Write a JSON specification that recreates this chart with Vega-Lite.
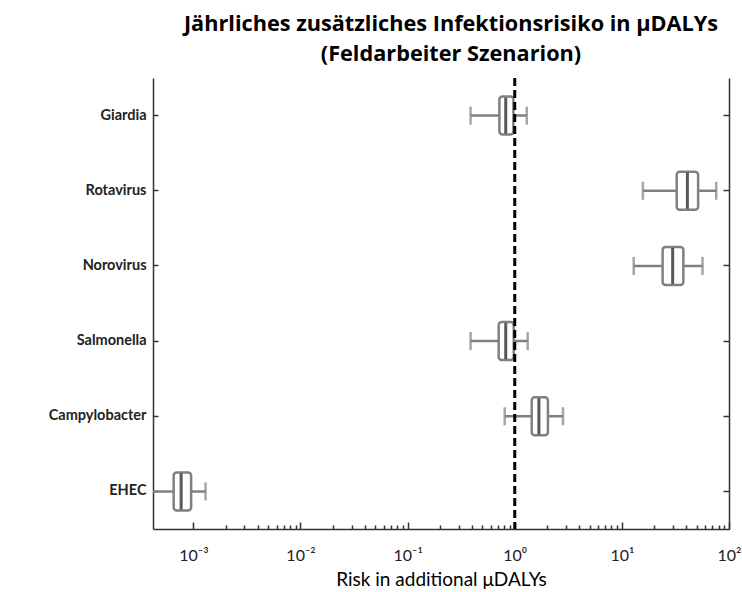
{
  "$schema": "https://vega.github.io/schema/vega-lite/v6.json",
  "autosize": "none",
  "width": 576,
  "height": 451,
  "padding": {"left": 153, "top": 78, "right": 13, "bottom": 63},
  "background": "white",
  "config": {"view": {"stroke": null}, "font": "Lato"},
  "title": {
    "text": ["Jährliches zusätzliches Infektionsrisiko in μDALYs", "(Feldarbeiter Szenarion)"],
    "font": "Open Sans",
    "fontSize": 21.7,
    "fontWeight": "bold",
    "color": "#000000",
    "anchor": "middle",
    "dx": 10,
    "lineHeight": 30,
    "offset": 11
  },
  "datasets": {
    "boxes": [
      {"pathogen": "Giardia", "lw": 0.387, "q1": 0.719, "median": 0.824, "q3": 0.972, "uw": 1.295},
      {"pathogen": "Rotavirus", "lw": 15.7, "q1": 32.5, "median": 40.9, "q3": 51.5, "uw": 76.0},
      {"pathogen": "Norovirus", "lw": 12.9, "q1": 24.0, "median": 29.8, "q3": 37.5, "uw": 56.6},
      {"pathogen": "Salmonella", "lw": 0.387, "q1": 0.708, "median": 0.824, "q3": 0.979, "uw": 1.32},
      {"pathogen": "Campylobacter", "lw": 0.806, "q1": 1.44, "median": 1.68, "q3": 2.04, "uw": 2.82},
      {"pathogen": "EHEC", "lw": 0.00035, "q1": 0.000655, "median": 0.000769, "q3": 0.000953, "uw": 0.0013}
    ],
    "reference": [{"ref": 1}]
  },
  "layer": [
    {
      "data": {"name": "boxes"},
      "mark": {"type": "rule", "color": "#808080", "strokeWidth": 2.5, "clip": true},
      "encoding": {
        "y": {
          "field": "pathogen", "type": "nominal",
          "sort": ["Giardia", "Rotavirus", "Norovirus", "Salmonella", "Campylobacter", "EHEC"],
          "scale": {"paddingInner": 0, "paddingOuter": 0},
          "axis": {
            "title": null,
            "orient": "left",
            "labelFont": "Lato",
            "labelFontSize": 14.5,
            "labelFontWeight": "bold",
            "labelColor": "#222222",
            "labelPadding": 12,
            "tickSize": -5,
            "tickColor": "#333333",
            "tickWidth": 1.5,
            "domainColor": "#333333",
            "domainWidth": 1.5
          }
        },
        "x": {
          "field": "lw", "type": "quantitative",
          "title": "Risk in additional μDALYs",
          "scale": {"type": "log", "domain": [0.00042, 100], "nice": false},
          "axis": {
            "title": "Risk in additional μDALYs",
            "titleFont": "Lato",
            "titleFontSize": 19,
            "titleFontWeight": "normal",
            "titleColor": "#000000",
            "titlePadding": 4,
            "grid": false,
            "values": [0.001, 0.002, 0.003, 0.004, 0.005, 0.006, 0.007, 0.008, 0.009,
                       0.01, 0.02, 0.03, 0.04, 0.05, 0.06, 0.07, 0.08, 0.09,
                       0.1, 0.2, 0.3, 0.4, 0.5, 0.6, 0.7, 0.8, 0.9,
                       1, 2, 3, 4, 5, 6, 7, 8, 9,
                       10, 20, 30, 40, 50, 60, 70, 80, 90, 100],
            "labelExpr": "abs(log(datum.value)/LN10 + 3) < 0.001 ? '10⁻³' : abs(log(datum.value)/LN10 + 2) < 0.001 ? '10⁻²' : abs(log(datum.value)/LN10 + 1) < 0.001 ? '10⁻¹' : abs(log(datum.value)/LN10) < 0.001 ? '10⁰' : abs(log(datum.value)/LN10 - 1) < 0.001 ? '10¹' : abs(log(datum.value)/LN10 - 2) < 0.001 ? '10²' : ''",
            "labelFont": "Lato",
            "labelFontSize": 16,
            "labelColor": "#222222",
            "labelPadding": 25,
            "labelOverlap": false,
            "labelFlush": false,
            "tickSize": {"condition": {"test": "abs(log(datum.value)/LN10 - round(log(datum.value)/LN10)) < 0.001", "value": -7}, "value": -4},
            "tickColor": "#333333",
            "tickWidth": 1.5,
            "domainColor": "#333333",
            "domainWidth": 1.5
          }
        },
        "x2": {"field": "uw"}
      }
    },
    {
      "data": {"name": "boxes"},
      "mark": {"type": "tick", "color": "#808080", "thickness": 2.5, "size": 18, "clip": true},
      "encoding": {
        "y": {"field": "pathogen", "type": "nominal", "sort": ["Giardia", "Rotavirus", "Norovirus", "Salmonella", "Campylobacter", "EHEC"], "axis": null},
        "x": {"field": "lw", "type": "quantitative", "title": "Risk in additional μDALYs"}
      }
    },
    {
      "data": {"name": "boxes"},
      "mark": {"type": "tick", "color": "#808080", "thickness": 2.5, "size": 18},
      "encoding": {
        "y": {"field": "pathogen", "type": "nominal", "sort": ["Giardia", "Rotavirus", "Norovirus", "Salmonella", "Campylobacter", "EHEC"], "axis": null},
        "x": {"field": "uw", "type": "quantitative", "title": "Risk in additional μDALYs"}
      }
    },
    {
      "data": {"name": "boxes"},
      "mark": {"type": "bar", "fill": "white", "stroke": "#808080", "strokeWidth": 2.5, "cornerRadius": 3, "size": 38},
      "encoding": {
        "y": {"field": "pathogen", "type": "nominal", "sort": ["Giardia", "Rotavirus", "Norovirus", "Salmonella", "Campylobacter", "EHEC"], "axis": null},
        "x": {"field": "q1", "type": "quantitative", "title": "Risk in additional μDALYs"},
        "x2": {"field": "q3"}
      }
    },
    {
      "data": {"name": "boxes"},
      "mark": {"type": "tick", "color": "#111111", "thickness": 3, "size": 36},
      "encoding": {
        "y": {
          "field": "pathogen", "type": "nominal",
          "sort": ["Giardia", "Rotavirus", "Norovirus", "Salmonella", "Campylobacter", "EHEC"],
          "axis": {
            "orient": "right",
            "title": null,
            "labels": false,
            "tickSize": -6,
            "tickColor": "#333333",
            "tickWidth": 1.5,
            "domainColor": "#333333",
            "domainWidth": 1.5
          }
        },
        "x": {"field": "median", "type": "quantitative", "title": "Risk in additional μDALYs"}
      }
    },
    {
      "data": {"name": "reference"},
      "mark": {"type": "rule", "color": "#000000", "strokeWidth": 3, "strokeDash": [8, 4]},
      "encoding": {
        "x": {"field": "ref", "type": "quantitative", "title": "Risk in additional μDALYs"}
      }
    }
  ],
  "resolve": {"axis": {"y": "independent"}}
}
